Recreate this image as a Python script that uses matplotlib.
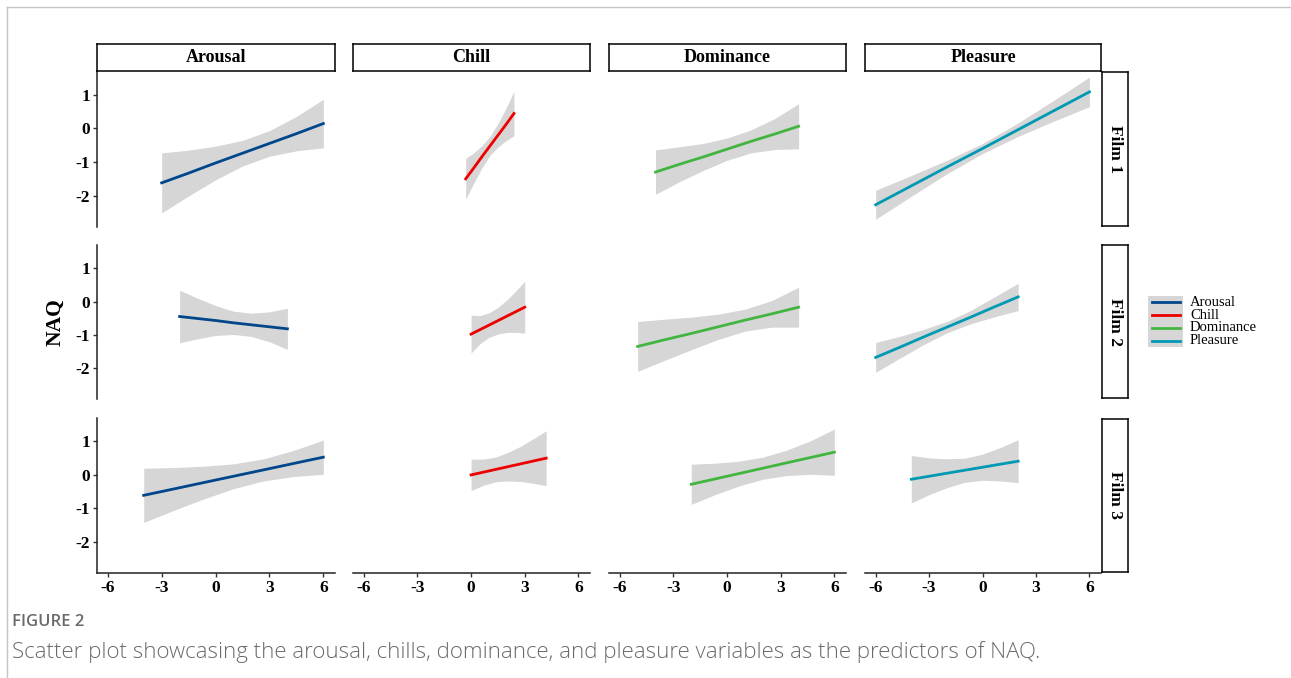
import matplotlib
matplotlib.use("Agg")
import matplotlib.pyplot as plt
import numpy as np
from matplotlib.lines import Line2D

films = ["Film 1", "Film 2", "Film 3"]
predictors = ["Arousal", "Chill", "Dominance", "Pleasure"]
colors = ["#00468B", "#ED0000", "#42B540", "#0099B4"]

# one list per film (Film 1, Film 2, Film 3); hw = half width of the grey band
arousal_x = [[-3, -1.5, 0, 1.5, 3, 4.5, 6], [-2, -1, 0, 1, 2, 3, 4], [-4, -2.33, -0.67, 1, 2.67, 4.33, 6]]
arousal_fit = [[-1.62, -1.33, -1.03, -0.74, -0.45, -0.16, 0.14],
               [-0.45, -0.51, -0.57, -0.64, -0.70, -0.76, -0.82],
               [-0.61, -0.42, -0.23, -0.04, 0.15, 0.34, 0.53]]
arousal_hw = [[0.89, 0.68, 0.50, 0.38, 0.38, 0.51, 0.72],
              [0.79, 0.61, 0.45, 0.35, 0.35, 0.45, 0.62],
              [0.81, 0.64, 0.49, 0.37, 0.33, 0.39, 0.51]]

chill_x = [[-0.3, 0.15, 0.6, 1.05, 1.5, 1.95, 2.4], [0, 0.5, 1, 1.5, 2, 2.5, 3], [0, 0.7, 1.4, 2.1, 2.8, 3.5, 4.2]]
chill_fit = [[-1.50, -1.18, -0.85, -0.53, -0.21, 0.11, 0.44],
             [-0.98, -0.845, -0.71, -0.575, -0.44, -0.305, -0.17],
             [0.0, 0.083, 0.167, 0.25, 0.333, 0.417, 0.50]]
chill_hw = [[0.61, 0.45, 0.33, 0.28, 0.35, 0.48, 0.66],
            [0.57, 0.42, 0.37, 0.40, 0.49, 0.62, 0.78],
            [0.47, 0.39, 0.37, 0.43, 0.53, 0.67, 0.82]]

dominance_x = [[-4, -2.67, -1.33, 0, 1.33, 2.67, 4], [-5, -3.5, -2, -0.5, 1, 2.5, 4], [-2, -0.67, 0.67, 2, 3.33, 4.67, 6]]
dominance_fit = [[-1.30, -1.07, -0.85, -0.62, -0.39, -0.17, 0.06],
                 [-1.35, -1.15, -0.96, -0.76, -0.56, -0.37, -0.17],
                 [-0.28, -0.12, 0.04, 0.20, 0.36, 0.52, 0.68]]
dominance_hw = [[0.66, 0.52, 0.40, 0.33, 0.34, 0.46, 0.67],
                [0.75, 0.62, 0.49, 0.38, 0.33, 0.40, 0.60],
                [0.60, 0.47, 0.37, 0.33, 0.38, 0.50, 0.69]]

pleasure_x = [[-6, -4, -2, 0, 2, 4, 6], [-6, -4.67, -3.33, -2, -0.67, 0.67, 2], [-4, -3, -2, -1, 0, 1, 2]]
pleasure_fit = [[-2.27, -1.71, -1.15, -0.60, -0.04, 0.52, 1.08],
                [-1.68, -1.38, -1.07, -0.77, -0.47, -0.16, 0.14],
                [-0.13, -0.04, 0.05, 0.14, 0.23, 0.32, 0.41]]
pleasure_hw = [[0.43, 0.31, 0.20, 0.15, 0.20, 0.31, 0.44],
               [0.45, 0.33, 0.23, 0.17, 0.20, 0.30, 0.41],
               [0.71, 0.55, 0.43, 0.36, 0.39, 0.50, 0.64]]

x_ticks = [-6, -3, 0, 3, 6]
y_ticks = [-2, -1, 0, 1]

series = [
    (arousal_x, arousal_fit, arousal_hw),
    (chill_x, chill_fit, chill_hw),
    (dominance_x, dominance_fit, dominance_hw),
    (pleasure_x, pleasure_fit, pleasure_hw),
]

W, H = 1291, 678
SERIF = "Liberation Serif"

fig = plt.figure(figsize=(W / 100, H / 100), dpi=100)


def box(x0, y0, x1, y1):
    return [x0 / W, 1 - y1 / H, (x1 - x0) / W, (y1 - y0) / H]


col_px = [(97, 335), (353, 590), (609, 846), (865, 1101)]
row_px = [(71, 227), (245, 399), (418, 573)]

for r, (y0, y1) in enumerate(row_px):
    for c, (x0, x1) in enumerate(col_px):
        ax = fig.add_axes(box(x0, y0, x1, y1))
        xs, fit, hw = series[c]
        f = np.array(fit[r])
        w = np.array(hw[r])
        ax.fill_between(xs[r], f - w, f + w, color="#d6d6d6", lw=0)
        ax.plot(xs[r], fit[r], color=colors[c], lw=2)
        ax.set_xlim(-6.6, 6.65)
        ax.set_ylim(-2.93, 1.70)
        ax.set_xticks(x_ticks)
        ax.set_yticks(y_ticks)
        for s in ["top", "right"]:
            ax.spines[s].set_visible(False)
        ax.spines["left"].set_visible(c == 0)
        ax.spines["bottom"].set_visible(r == 2)
        for s in ["left", "bottom"]:
            ax.spines[s].set_linewidth(1.1)
            ax.spines[s].set_color("#222222")
        ax.tick_params(axis="y", left=(c == 0), labelleft=(c == 0), length=3,
                       width=1, color="#333333", pad=2)
        ax.tick_params(axis="x", bottom=(r == 2), labelbottom=(r == 2), length=3,
                       width=1, color="#333333", pad=2)
        ax.set_xticklabels([str(t) for t in x_ticks])
        ax.set_yticklabels([str(t) for t in y_ticks])
        for lab in ax.get_xticklabels() + ax.get_yticklabels():
            lab.set_fontfamily(SERIF)
            lab.set_fontweight("bold")
            lab.set_fontsize(12.5)

        if r == 0:
            sa = fig.add_axes(box(x0, 44, x1, 71))
            sa.set_xticks([])
            sa.set_yticks([])
            for s in sa.spines.values():
                s.set_linewidth(1.1)
            sa.text(0.5, 0.5, predictors[c], ha="center", va="center",
                    family=SERIF, weight="bold", fontsize=13, transform=sa.transAxes)

    ra = fig.add_axes(box(1102, y0 + 0.5, 1128, y1 - 1))
    ra.set_xticks([])
    ra.set_yticks([])
    for s in ra.spines.values():
        s.set_linewidth(1.1)
    ra.text(0.5, 0.5, films[r], ha="center", va="center", rotation=-90,
            family=SERIF, weight="bold", fontsize=12.5, transform=ra.transAxes)

fig.text(55 / W, 1 - 322 / H, "NAQ", rotation=90, ha="center", va="center",
         family=SERIF, weight="bold", fontsize=15.5)

# legend
la = fig.add_axes(box(1148, 296, 1183, 347))
la.set_facecolor("#d6d6d6")
la.set_xlim(0, 1)
la.set_ylim(4, 0)
la.set_xticks([])
la.set_yticks([])
for s in la.spines.values():
    s.set_visible(False)
for i, name in enumerate(predictors):
    la.plot([0.1, 0.9], [i + 0.5, i + 0.5], color=colors[i], lw=2)
    la.text(1.2, i + 0.5, name, ha="left", va="center", family=SERIF,
            fontsize=10.5, clip_on=False)

# page frame and caption
fig.add_artist(Line2D([7 / W, 1], [1 - 7 / H, 1 - 7 / H], color="#c4c4c4", lw=1))
fig.add_artist(Line2D([7 / W, 7 / W], [0, 1 - 7 / H], color="#c4c4c4", lw=1))
fig.text(12 / W, 1 - 622 / H, "FIGURE 2", ha="left", va="center",
         family="Open Sans", weight="semibold", fontsize=12, color="#6a6a6a")
fig.text(12 / W, 1 - 652 / H,
         "Scatter plot showcasing the arousal, chills, dominance, and pleasure variables as the predictors of NAQ.",
         ha="left", va="center", family="Open Sans", weight="light", fontsize=16,
         color="#6a6a6a")

fig.savefig("out.png", dpi=100)
